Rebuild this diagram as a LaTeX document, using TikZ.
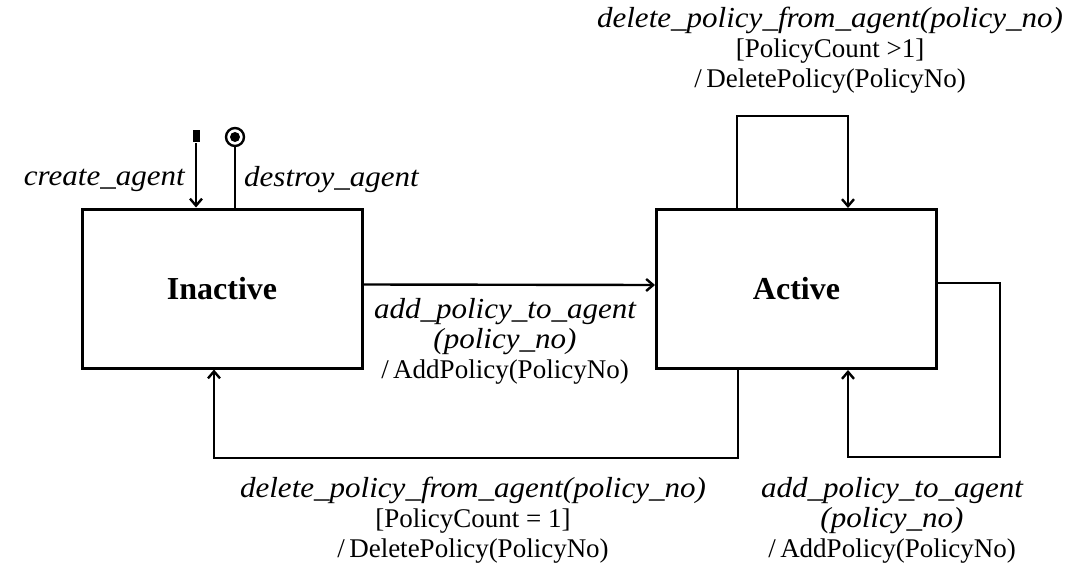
\documentclass[tikz,border=0pt]{standalone}
\usepackage{fontspec}
\setmainfont{Liberation Serif}[ItalicFeatures={FakeStretch=1.07}]
\usepackage{tikz}
\usetikzlibrary{arrows.meta, positioning, calc}

\newcommand{\evt}{\fontsize{29}{30}\selectfont\itshape}

\begin{document}
\begin{tikzpicture}[x=1pt,y=-1pt,>={Straight Barb[length=7pt,width=12pt]},
	line width=2.4pt,font=\fontsize{27}{30}\selectfont,
	state node/.style={rectangle,draw,line width=3pt,minimum width=280pt,minimum height=159pt,font=\fontsize{32}{34}\selectfont\bfseries},
	trans label/.style={align=center,inner sep=0pt}]

	\useasboundingbox (0,0) rectangle (1089,562);

	% the two states
	\node[state node] (inactive) at (222,288.5) {Inactive};
	\node[state node] (active) at (796.5,289) {Active};

	% initial and final pseudo states
	\node[fill,inner sep=0pt,minimum width=7pt,minimum height=12pt] (init) at (196,136) {};
	\node[circle,draw,line width=2.4pt,inner sep=0pt,minimum size=18pt] (final) at (235,137) {};
	\fill (final.center) circle (5pt);

	\draw[->] (init) -- (inactive.north -| init);
	\draw (final) -- (inactive.north -| final);
	\node[anchor=east,inner sep=0pt] (create) at (186,180) {\evt create\_agent};
	\node[anchor=west,inner sep=0pt] (destroy) at (243,180) {\evt destroy\_agent};

	% loop points
	\coordinate (looptop) at (792,116);
	\coordinate (rloop) at (1000,457);
	\coordinate (bloop) at (476,458);

	\draw[->] ([yshift=4pt]inactive.east) -- ([yshift=4pt]active.west);
	\draw[->] ([xshift=-59.5pt]active.north) |- (looptop) -| ([xshift=51.5pt]active.north);
	\draw[->] ([yshift=6pt]active.east) -| (rloop) -| ([xshift=51.5pt]active.south);
	\draw[->] ([xshift=-58.5pt]active.south) |- (bloop) -| ([xshift=-8pt]inactive.south);

	% transition labels
	\node[trans label] (addmid) at (505,341) {{\evt add\_policy\_to\_agent}\\{\evt (policy\_no)}\\/\,AddPolicy(PolicyNo)};
	\node[trans label] (deltop) at (830,50) {{\evt delete\_policy\_from\_agent(policy\_no)}\\{[}PolicyCount >1{]}\\/\,DeletePolicy(PolicyNo)};
	\node[trans label] (delbot) at (473,520) {{\evt delete\_policy\_from\_agent(policy\_no)}\\{[}PolicyCount = 1{]}\\/\,DeletePolicy(PolicyNo)};
	\node[trans label] (addbot) at (892,520) {{\evt add\_policy\_to\_agent}\\{\evt (policy\_no)}\\/\,AddPolicy(PolicyNo)};
\end{tikzpicture}
\end{document}
